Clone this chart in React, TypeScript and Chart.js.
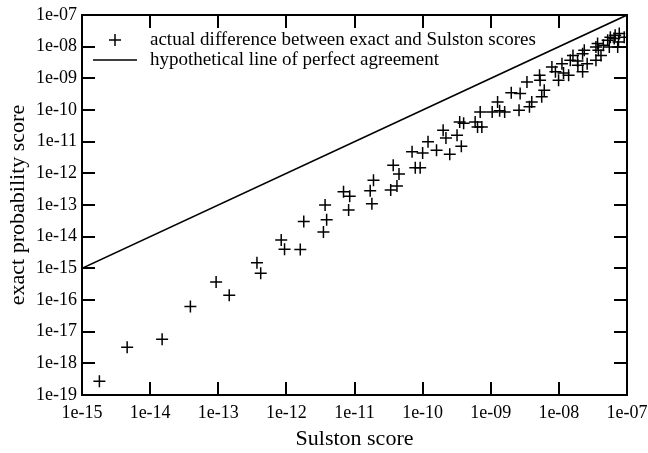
import React, { useEffect, useRef } from "react";
import { Chart, registerables } from "chart.js";

Chart.register(...registerables);

// Sulston score (x) vs exact probability score (y)
const sulstonScores = [
  1.8e-15, 4.6e-15, 1.5e-14, 3.9e-14, 9.3e-14, 1.45e-13, 3.7e-13, 4.2e-13, 8.4e-13, 9.4e-13,
  1.6e-12, 1.8e-12, 3.5e-12, 3.9e-12, 3.7e-12, 8.2e-12, 6.9e-12, 8.5e-12, 1.8e-11, 1.7e-11,
  1.9e-11, 3.4e-11, 4.2e-11, 4.5e-11, 3.7e-11, 7.8e-11, 9.2e-11, 7.0e-11, 1.0e-10, 1.2e-10,
  1.6e-10, 2.5e-10, 3.7e-10, 2.2e-10, 2.0e-10, 3.2e-10, 3.5e-10, 4.0e-10, 5.9e-10, 6.4e-10,
  7.4e-10, 7.0e-10, 1.05e-9, 1.26e-9, 1.35e-9, 1.6e-9, 2.0e-9, 2.6e-9, 2.7e-9, 3.4e-9,
  4.0e-9, 3.7e-9, 5.3e-9, 5.2e-9, 5.6e-9, 6.1e-9, 7.9e-9, 8.9e-9, 9.9e-9, 1.11e-8,
  1.39e-8, 1.47e-8, 1.61e-8, 1.88e-8, 1.9e-8, 2.23e-8, 2.23e-8, 2.36e-8, 3.5e-8, 3.5e-8,
  4.15e-8, 3.7e-8, 5.2e-8, 5.5e-8, 6.5e-8, 7.3e-8, 7.7e-8, 9.1e-8, 1.17e-8, 2.6e-8,
  3.8e-8, 4.5e-8, 5.7e-8, 6.7e-8, 7.5e-8,
];
const exactScores = [
  2.7e-19, 3.2e-18, 5.8e-18, 6.2e-17, 3.7e-16, 1.4e-16, 1.5e-15, 7.0e-16, 7.9e-15, 4.0e-15,
  3.9e-15, 3.0e-14, 1.4e-14, 3.4e-14, 1.0e-13, 7.0e-14, 2.6e-13, 1.9e-13, 1.1e-13, 2.8e-13,
  6.1e-13, 3.0e-13, 4.0e-13, 9.5e-13, 1.8e-12, 1.5e-12, 1.5e-12, 4.8e-12, 4.4e-12, 9.9e-12,
  5.4e-12, 4.0e-12, 7.2e-12, 1.3e-11, 2.3e-11, 1.6e-11, 4.2e-11, 3.8e-11, 4.2e-11, 2.9e-11,
  2.9e-11, 8.7e-11, 8.7e-11, 1.8e-10, 9.4e-11, 8.7e-11, 3.5e-10, 9.9e-11, 3.3e-10, 7.7e-10,
  1.8e-10, 1.26e-10, 8.7e-10, 1.25e-9, 2.6e-10, 4.2e-10, 2.3e-9, 1.6e-9, 8.7e-10, 2.9e-9,
  1.25e-9, 3.7e-9, 5.3e-9, 3.5e-9, 2.6e-9, 1.6e-9, 6.0e-9, 7.7e-9, 9.8e-9, 3.7e-9,
  5.3e-9, 1.25e-8, 1.59e-8, 9.8e-9, 1.8e-8, 9.8e-9, 2.6e-8, 2.0e-8, 1.48e-9, 2.9e-9,
  7.7e-9, 1.1e-8, 2.0e-8, 2.3e-8, 1.4e-8,
];

// hypothetical line of perfect agreement
const agreementX = [1e-15, 1e-7];
const agreementY = [1e-15, 1e-7];

const xTickValues = [1e-15, 1e-14, 1e-13, 1e-12, 1e-11, 1e-10, 1e-9, 1e-8, 1e-7];
const xTickLabels = ["1e-15", "1e-14", "1e-13", "1e-12", "1e-11", "1e-10", "1e-09", "1e-08", "1e-07"];
const yTickValues = [1e-19, 1e-18, 1e-17, 1e-16, 1e-15, 1e-14, 1e-13, 1e-12, 1e-11, 1e-10, 1e-9, 1e-8, 1e-7];
const yTickLabels = [
  "1e-19", "1e-18", "1e-17", "1e-16", "1e-15", "1e-14", "1e-13",
  "1e-12", "1e-11", "1e-10", "1e-09", "1e-08", "1e-07",
];

const seriesLabels = [
  "actual difference between exact and Sulston scores",
  "hypothetical line of perfect agreement",
];
const xTitle = "Sulston score";
const yTitle = "exact probability score";

const FONT = "'Liberation Serif', 'DejaVu Serif', serif";

const framePlugin = {
  id: "frameTicksLegend",
  afterDraw(chart: any) {
    const { ctx, chartArea, scales } = chart;
    const { left, right, top, bottom } = chartArea;
    const xs = scales.x;
    const ys = scales.y;
    const tl = 13;
    ctx.save();
    ctx.strokeStyle = "#000";
    ctx.lineWidth = 2;
    ctx.strokeRect(left, top, right - left, bottom - top);
    ctx.beginPath();
    xs.ticks.forEach((t: any) => {
      const px = Math.round(xs.getPixelForValue(t.value));
      ctx.moveTo(px, bottom);
      ctx.lineTo(px, bottom - tl);
      ctx.moveTo(px, top);
      ctx.lineTo(px, top + tl);
    });
    ys.ticks.forEach((t: any) => {
      const py = Math.round(ys.getPixelForValue(t.value));
      ctx.moveTo(left, py);
      ctx.lineTo(left + tl, py);
      ctx.moveTo(right, py);
      ctx.lineTo(right - tl, py);
    });
    ctx.stroke();

    // legend inside plot
    const symX = left + 33;
    const row1 = top + 25;
    const row2 = top + 45;
    ctx.lineWidth = 1.5;
    ctx.beginPath();
    ctx.moveTo(symX - 6, row1);
    ctx.lineTo(symX + 6, row1);
    ctx.moveTo(symX, row1 - 6);
    ctx.lineTo(symX, row1 + 6);
    ctx.moveTo(left + 11, row2);
    ctx.lineTo(left + 55, row2);
    ctx.stroke();
    ctx.fillStyle = "#000";
    ctx.font = `19px ${FONT}`;
    ctx.textAlign = "left";
    ctx.textBaseline = "middle";
    ctx.fillText(seriesLabels[0], left + 68, row1);
    ctx.fillText(seriesLabels[1], left + 68, row2);
    ctx.restore();
  },
};

export default function App() {
  const canvasRef = useRef<HTMLCanvasElement | null>(null);

  useEffect(() => {
    if (!canvasRef.current) return;
    const chart = new Chart(canvasRef.current, {
      type: "scatter",
      data: {
        datasets: [
          {
            label: seriesLabels[0],
            data: sulstonScores.map((x, i) => ({ x, y: exactScores[i] })),
            pointStyle: "cross",
            pointRadius: 6,
            pointBorderWidth: 1.5,
            borderColor: "#000",
            backgroundColor: "#000",
            showLine: false,
          },
          {
            label: seriesLabels[1],
            data: agreementX.map((x, i) => ({ x, y: agreementY[i] })),
            showLine: true,
            borderColor: "#000",
            borderWidth: 1.6,
            pointRadius: 0,
          },
        ],
      },
      options: {
        animation: false,
        responsive: false,
        devicePixelRatio: 1,
        layout: { padding: { top: 15, right: 21, left: 0, bottom: 0 } },
        plugins: {
          legend: { display: false },
          tooltip: { enabled: false },
        },
        scales: {
          x: {
            type: "logarithmic",
            position: "bottom",
            min: 1e-15,
            max: 1e-7,
            afterFit: (s: any) => {
              s.height = 58;
              s.paddingLeft = 0;
              s.paddingRight = 0;
            },
            afterBuildTicks: (s: any) => {
              s.ticks = xTickValues.map((v) => ({ value: v }));
            },
            grid: { display: false, drawTicks: false },
            border: { display: false },
            ticks: {
              callback: (_v: any, i: number) => xTickLabels[i],
              font: { family: FONT, size: 18 },
              color: "#000",
              padding: 7,
              maxRotation: 0,
              autoSkip: false,
            },
            title: {
              display: true,
              text: xTitle,
              font: { family: FONT, size: 22 },
              color: "#000",
              padding: { top: 0, bottom: 1 },
            },
          },
          y: {
            type: "logarithmic",
            position: "left",
            min: 1e-19,
            max: 1e-7,
            afterFit: (s: any) => {
              s.width = 82;
              s.paddingTop = 0;
              s.paddingBottom = 0;
            },
            afterBuildTicks: (s: any) => {
              s.ticks = yTickValues.map((v) => ({ value: v }));
            },
            grid: { display: false, drawTicks: false },
            border: { display: false },
            ticks: {
              callback: (_v: any, i: number) => yTickLabels[i],
              font: { family: FONT, size: 18 },
              color: "#000",
              padding: 5,
              autoSkip: false,
            },
            title: {
              display: true,
              text: yTitle,
              font: { family: FONT, size: 22 },
              color: "#000",
              padding: { top: 5, bottom: 0 },
            },
          },
        },
      },
      plugins: [framePlugin],
    } as any);
    return () => chart.destroy();
  }, []);

  return (
    <div style={{ position: "fixed", left: 0, top: 0, width: 648, height: 453, background: "#fff" }}>
      <canvas ref={canvasRef} width={648} height={453} style={{ display: "block" }} />
    </div>
  );
}
